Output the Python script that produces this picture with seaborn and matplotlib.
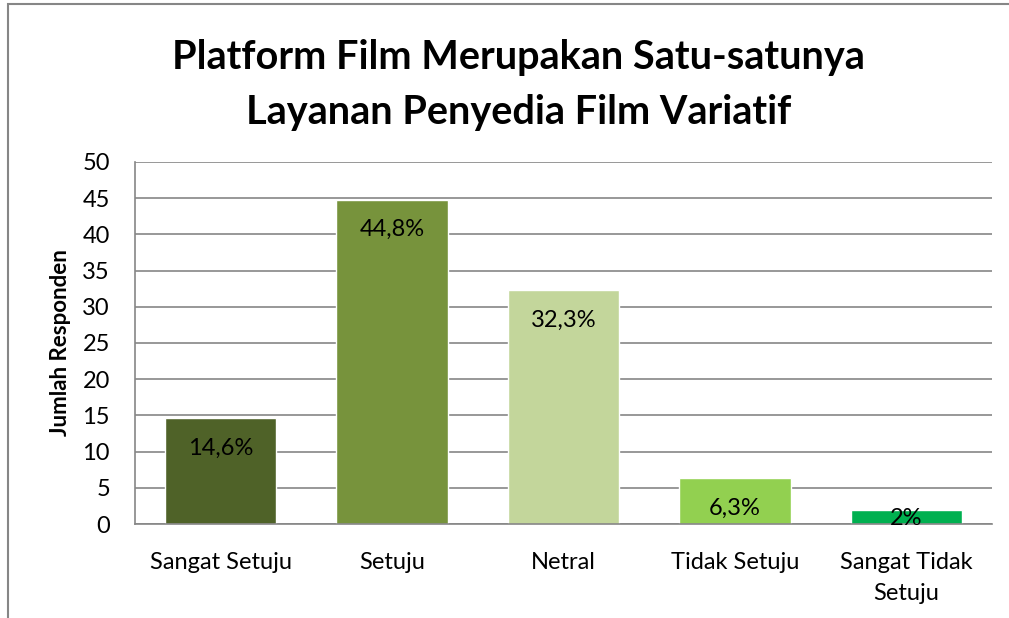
import matplotlib
matplotlib.use("Agg")
import matplotlib.pyplot as plt
import seaborn as sns
import pandas as pd
from matplotlib.patches import Rectangle

# data
kategori = ["Sangat Setuju", "Setuju", "Netral", "Tidak Setuju", "Sangat Tidak\nSetuju"]
jumlah = [14.6, 44.8, 32.3, 6.3, 2.0]
label_persen = ["14,6%", "44,8%", "32,3%", "6,3%", "2%"]
warna = ["#4F6228", "#77933C", "#C3D69B", "#92D050", "#00B050"]
y_ticks = [0, 5, 10, 15, 20, 25, 30, 35, 40, 45, 50]

sns.set_style("white")
plt.rcParams["font.family"] = ["Lato", "DejaVu Sans"]
plt.rcParams["text.color"] = "black"
plt.rcParams["axes.labelcolor"] = "black"

df = pd.DataFrame({"kategori": kategori, "jumlah": jumlah})

fig = plt.figure(figsize=(10.09, 6.18), dpi=100)
ax = fig.add_axes([0.1338, 0.1521, 0.8494, 0.5858])

sns.barplot(data=df, x="kategori", y="jumlah", hue="kategori", palette=warna,
            width=0.65, legend=False, ax=ax, saturation=1)

# grid lines
ax.set_ylim(0, 50)
ax.set_yticks(y_ticks)
ax.yaxis.grid(True, color="#868686", linewidth=1.2)
ax.set_axisbelow(True)
ax.tick_params(axis="both", length=0, labelsize=17, colors="black")
ax.tick_params(axis="x", pad=20)
ax.tick_params(axis="y", pad=18)
for lbl in ax.get_xticklabels():
    lbl.set_linespacing(1.6)

for s in ["top", "right"]:
    ax.spines[s].set_visible(False)
for s in ["left", "bottom"]:
    ax.spines[s].set_color("#868686")
    ax.spines[s].set_linewidth(1.2)

# label persen di dalam batang (batang pendek: label mulai dari puncak batang)
for i, (v, t) in enumerate(zip(jumlah, label_persen)):
    geser = -14 if v > 5 else 1
    ax.annotate(t, (i, v), xytext=(0, geser), textcoords="offset points",
                ha="center", va="top", fontsize=17, color="black")

ax.set_xlabel("")
ax.set_ylabel("Jumlah Responden", fontsize=16, fontweight="bold", labelpad=8)

fig.text(0.514, 0.862, "Platform Film Merupakan Satu-satunya\nLayanan Penyedia Film Variatif",
         ha="center", va="center", fontsize=28.5, fontweight="bold", linespacing=1.6)

# bingkai chart
fig.patches.append(Rectangle((0.008, -0.1), 1.1, 1.093, transform=fig.transFigure,
                             fill=False, edgecolor="#868686", linewidth=1.5))

fig.savefig("out.png", dpi=100)
